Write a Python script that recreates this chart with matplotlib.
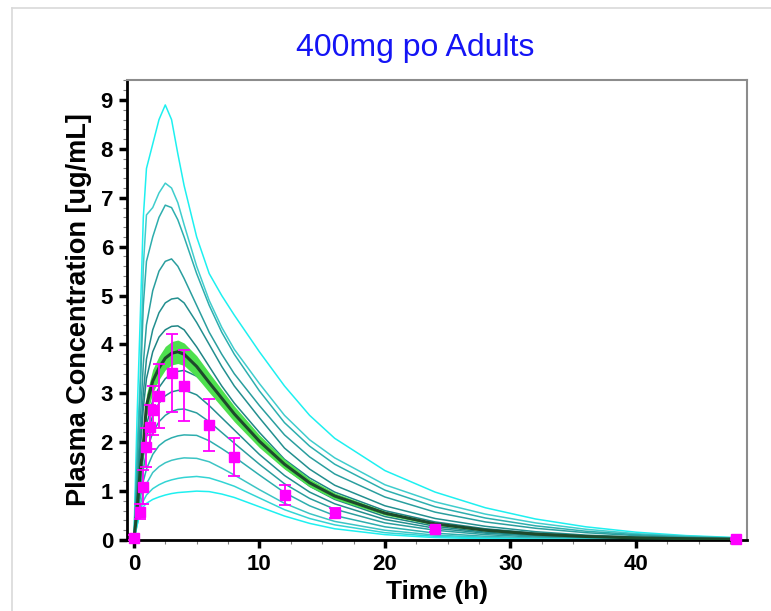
import matplotlib as mpl
mpl.use("Agg")
import matplotlib.pyplot as plt
from matplotlib.ticker import MultipleLocator
from matplotlib.lines import Line2D
import numpy as np

config = {
    "font.family": ["Liberation Sans", "DejaVu Sans"],
    "font.size": 16,
}
mpl.rcParams.update(config)

# simulated time grid (h)
time = [0, 0.25, 0.5, 0.75, 1, 1.5, 2, 2.5, 3, 3.5, 4, 5, 6, 7, 8, 10, 12, 14, 16,
        20, 24, 28, 32, 36, 40, 44, 48]

# individual / percentile profiles, top to bottom (ug/mL)
sim_1 = [0, 2.5, 4.5, 6.6, 7.6, 8.1, 8.6, 8.9, 8.6, 7.9, 7.25, 6.2, 5.45, 5.0, 4.6, 3.85,
         3.15, 2.55, 2.08, 1.42, 0.98, 0.66, 0.43, 0.27, 0.16, 0.09, 0.05]
sim_2 = [0, 1.8, 3.3, 5.6, 6.65, 6.8, 7.1, 7.3, 7.2, 6.9, 6.45, 5.6, 4.9, 4.35, 3.9, 3.2,
         2.55, 2.05, 1.68, 1.13, 0.78, 0.53, 0.35, 0.22, 0.13, 0.08, 0.04]
sim_3 = [0, 1.5, 3.0, 4.8, 5.7, 6.2, 6.6, 6.85, 6.8, 6.55, 6.2, 5.45, 4.8, 4.25, 3.8, 3.05,
         2.4, 1.92, 1.55, 1.02, 0.68, 0.45, 0.29, 0.18, 0.11, 0.065, 0.035]
sim_4 = [0, 1.1, 2.4, 3.6, 4.4, 5.1, 5.5, 5.7, 5.75, 5.6, 5.35, 4.8, 4.25, 3.8, 3.4, 2.75,
         2.15, 1.7, 1.35, 0.88, 0.57, 0.37, 0.24, 0.15, 0.09, 0.05, 0.03]
sim_5 = [0, 0.9, 2.0, 3.0, 3.7, 4.3, 4.65, 4.85, 4.93, 4.95, 4.85, 4.45, 4.0, 3.55, 3.15,
         2.5, 1.88, 1.45, 1.12, 0.7, 0.44, 0.28, 0.17, 0.1, 0.06, 0.035, 0.02]
sim_6 = [0, 0.8, 1.8, 2.7, 3.3, 3.85, 4.15, 4.3, 4.37, 4.38, 4.3, 3.95, 3.55, 3.15, 2.8,
         2.2, 1.65, 1.27, 0.98, 0.6, 0.37, 0.23, 0.14, 0.085, 0.05, 0.03, 0.018]
sim_7 = [0, 0.55, 1.3, 1.9, 2.35, 2.85, 3.12, 3.3, 3.4, 3.45, 3.47, 3.35, 3.1, 2.8, 2.5,
         1.95, 1.48, 1.1, 0.83, 0.48, 0.28, 0.16, 0.095, 0.055, 0.032, 0.019, 0.011]
sim_8 = [0, 0.5, 1.15, 1.7, 2.1, 2.55, 2.8, 2.95, 3.03, 3.06, 3.07, 2.97, 2.75, 2.5, 2.25,
         1.75, 1.32, 0.98, 0.74, 0.42, 0.24, 0.14, 0.08, 0.045, 0.026, 0.015, 0.009]
sim_9 = [0, 0.45, 1.0, 1.45, 1.8, 2.2, 2.42, 2.55, 2.63, 2.67, 2.68, 2.6, 2.42, 2.2, 1.98,
         1.55, 1.15, 0.85, 0.63, 0.35, 0.2, 0.11, 0.06, 0.035, 0.02, 0.012, 0.007]
sim_10 = [0, 0.4, 0.85, 1.2, 1.45, 1.75, 1.93, 2.03, 2.09, 2.13, 2.15, 2.14, 2.03, 1.87,
          1.7, 1.33, 0.97, 0.7, 0.5, 0.27, 0.14, 0.075, 0.04, 0.022, 0.012, 0.007, 0.004]
sim_11 = [0, 0.35, 0.7, 0.98, 1.15, 1.38, 1.5, 1.58, 1.63, 1.66, 1.68, 1.67, 1.6, 1.47,
          1.33, 1.03, 0.75, 0.54, 0.38, 0.2, 0.1, 0.055, 0.03, 0.016, 0.009, 0.005, 0.003]
sim_12 = [0, 0.3, 0.6, 0.8, 0.92, 1.05, 1.13, 1.19, 1.23, 1.26, 1.28, 1.3, 1.27, 1.19,
          1.1, 0.86, 0.62, 0.44, 0.31, 0.15, 0.075, 0.04, 0.02, 0.01, 0.005, 0.003, 0.002]
sim_13 = [0, 0.3, 0.55, 0.68, 0.75, 0.83, 0.88, 0.92, 0.95, 0.97, 0.98, 1.0, 0.99, 0.94,
          0.87, 0.68, 0.49, 0.34, 0.23, 0.11, 0.05, 0.025, 0.012, 0.006, 0.003, 0.002, 0.001]
sims = [sim_1, sim_2, sim_3, sim_4, sim_5, sim_6, sim_7, sim_8, sim_9, sim_10,
        sim_11, sim_12, sim_13]
sim_colors = ["#1EF0F0", "#3FCDCD", "#2DAEAE", "#2A9E9E", "#238F8F", "#1F8585",
              "#1F8585", "#238F8F", "#2A9E9E", "#2DAEAE", "#3CC4C4", "#33D4D4", "#1EF0F0"]

# population mean and its band half width
mean_conc = [0, 0.6, 1.4, 1.95, 2.75, 3.25, 3.52, 3.72, 3.82, 3.85, 3.8, 3.55, 3.22, 2.9,
             2.58, 2.02, 1.55, 1.17, 0.9, 0.55, 0.33, 0.2, 0.12, 0.072, 0.044, 0.027, 0.016]
band_half = [0, 0.08, 0.15, 0.2, 0.23, 0.24, 0.24, 0.24, 0.24, 0.24, 0.23, 0.22, 0.2,
             0.18, 0.16, 0.13, 0.1, 0.08, 0.065, 0.04, 0.025, 0.015, 0.01, 0.006, 0.004,
             0.002, 0.001]

# observed data
obs_time = [0, 0.5, 0.75, 1.0, 1.25, 1.5, 2, 3, 4, 6, 8, 12, 16, 24, 48]
obs_conc = [0.05, 0.58, 1.09, 1.9, 2.31, 2.65, 2.95, 3.42, 3.16, 2.36, 1.70, 0.92, 0.55,
            0.22, 0.03]
obs_sd = [0.05, 0.15, 0.35, 0.4, 0.45, 0.5, 0.65, 0.8, 0.72, 0.53, 0.39, 0.2, 0.1, 0.05,
          0.02]

fig = plt.figure(figsize=(7.71, 6.11), dpi=100)
fig.patch.set_facecolor("white")

# light panel frame
fig.add_artist(Line2D([12 / 771, 12 / 771], [0, 1 - 8 / 611], transform=fig.transFigure,
                      color="#D9D9D9", linewidth=1.2))
fig.add_artist(Line2D([12 / 771, 1], [1 - 8 / 611, 1 - 8 / 611], transform=fig.transFigure,
                      color="#D9D9D9", linewidth=1.2))

ax = fig.add_axes([127 / 771, 1 - 540 / 611, (747 - 127) / 771, (540 - 80) / 611])

for y, c in zip(sims, sim_colors):
    ax.plot(time, y, color=c, linewidth=1.1, zorder=2)

mean_arr = np.array(mean_conc)
half_arr = np.array(band_half)
ax.fill_between(time, mean_arr - half_arr, mean_arr + half_arr, color="#4EE04E",
                linewidth=0, zorder=3)
ax.plot(time, mean_conc, color="#1E4A2C", linewidth=2.2, zorder=4)

ax.errorbar(obs_time, obs_conc, yerr=obs_sd, fmt="s", color="#FF00FF", ecolor="#FF00FF",
            markersize=7.5, elinewidth=1.3, capsize=4, capthick=1.3, zorder=5,
            clip_on=False)

ax.set_xlim(-0.55, 48.85)
ax.set_ylim(0, 9.41)
ax.xaxis.set_major_locator(MultipleLocator(10))
ax.xaxis.set_minor_locator(MultipleLocator(2.5))
ax.yaxis.set_major_locator(MultipleLocator(1))
ax.yaxis.set_minor_locator(MultipleLocator(0.2))
ax.tick_params(which="major", direction="out", length=6, width=2.5, color="black",
               labelsize=16, pad=4)
ax.tick_params(which="minor", direction="out", length=3, width=0.8, color="#808080")
for lab in ax.get_xticklabels() + ax.get_yticklabels():
    lab.set_fontweight("bold")

for loc in ["left", "bottom"]:
    ax.spines[loc].set_linewidth(2)
    ax.spines[loc].set_color("black")
for loc in ["top", "right"]:
    ax.spines[loc].set_linewidth(1.5)
    ax.spines[loc].set_color("#8C8C8C")

ax.set_xlabel("Time (h)", fontsize=19, fontweight="bold", labelpad=4)
ax.set_ylabel("Plasma Concentration [ug/mL]", fontsize=19.5, fontweight="bold", labelpad=6)

fig.text(415 / 771, 1 - 48 / 611, "400mg po Adults", color="#1414F5", fontsize=23,
         ha="center", va="center")

plt.savefig("out.png", dpi=100)
plt.close()
